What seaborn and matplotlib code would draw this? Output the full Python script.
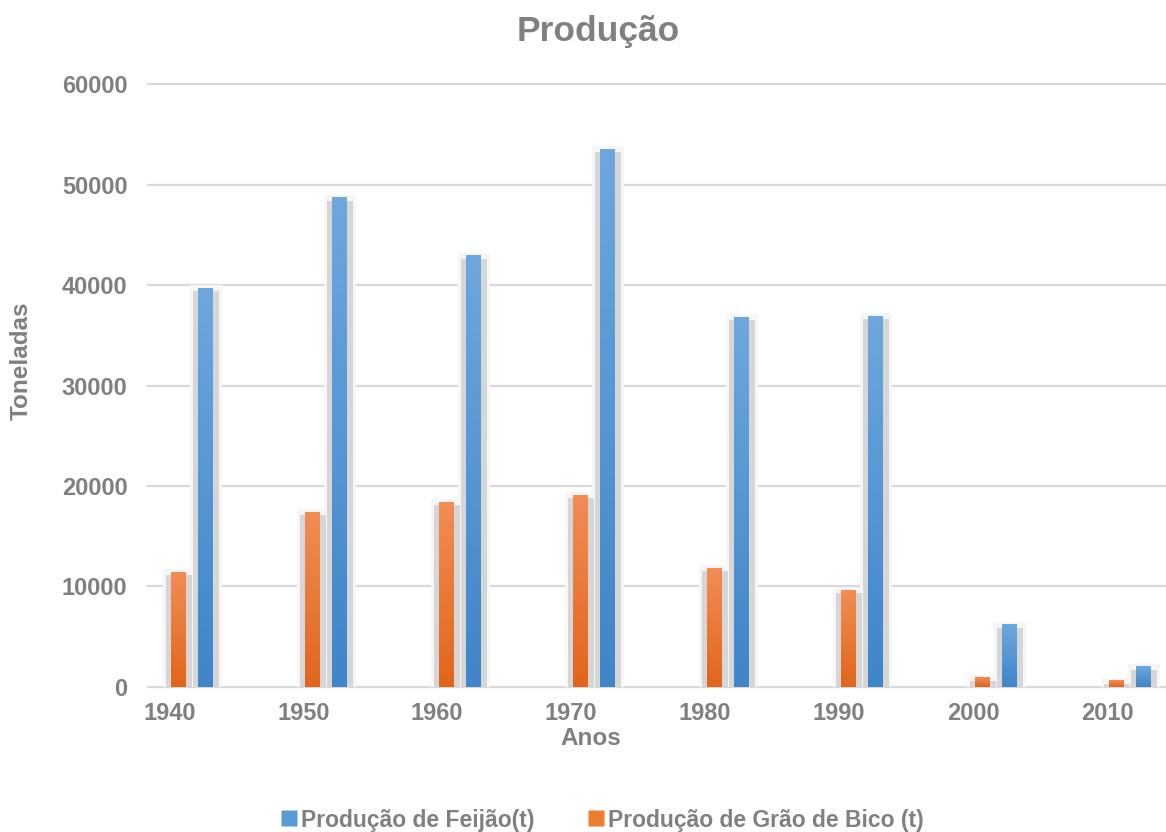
import numpy as np
import pandas as pd
import matplotlib
matplotlib.use("Agg")
import matplotlib.pyplot as plt
import seaborn as sns
from matplotlib.patches import Rectangle
from matplotlib.lines import Line2D
from matplotlib.colors import LinearSegmentedColormap

# Produção anual (toneladas)
anos = ["1940", "1950", "1960", "1970", "1980", "1990", "2000", "2010"]
feijao = [39700, 48700, 42900, 53500, 36800, 36900, 6200, 2000]
grao_de_bico = [11400, 17400, 18400, 19100, 11800, 9600, 900, 600]

serie_feijao = "Produção de Feijão(t)"
serie_grao = "Produção de Grão de Bico (t)"

df = pd.DataFrame({
    "Ano": anos * 2,
    "Toneladas": grao_de_bico + feijao,
    "Série": [serie_grao] * len(anos) + [serie_feijao] * len(anos),
})

AZUL = "#5B9BD5"
LARANJA = "#ED7D31"
CINZA = "#808080"
gradientes = {
    serie_grao: ("#E2651B", "#F28D55"),
    serie_feijao: ("#3F85C8", "#6DA7DE"),
}

sns.set_theme(style="white")
plt.rcParams["font.family"] = ["Liberation Sans", "DejaVu Sans"]

fig = plt.figure(figsize=(11.66, 8.32), dpi=100)
ax = fig.add_axes([0.1261, 0.1707, 0.8739, 0.7319])

ordem = [serie_grao, serie_feijao]
sns.barplot(data=df, x="Ano", y="Toneladas", hue="Série", hue_order=ordem,
            palette=[LARANJA, AZUL], width=0.41, gap=0.454, ax=ax,
            legend=False, zorder=3, errorbar=None)

# Sombra suave e preenchimento em degradê para cada barra
px_x = 1 / 134.0
px_y = 99.5
for serie, cont in zip(ordem, ax.containers):
    c0, c1 = gradientes[serie]
    cmap = LinearSegmentedColormap.from_list(serie, [c0, c1])
    grad = np.linspace(0, 1, 256).reshape(-1, 1)
    for p in cont.patches:
        x, w, h = p.get_x(), p.get_width(), p.get_height()
        ax.add_patch(Rectangle((x - 8 * px_x, 0), w + 17 * px_x, h + 3 * px_y,
                               facecolor="#f6f6f6", edgecolor="none", zorder=2))
        ax.add_patch(Rectangle((x - 5 * px_x, 0), w + 11 * px_x, h - 3 * px_y,
                               facecolor="#d6d6d6", edgecolor="none", zorder=2.2))
        ax.imshow(grad, cmap=cmap, extent=[x, x + w, 0, h], origin="lower",
                  aspect="auto", zorder=3.5, interpolation="bilinear")
        p.set_visible(False)

ax.set_xlim(-0.336, 7.269)
ax.set_ylim(-300, 60300)
ax.set_yticks(range(0, 60001, 10000))
ax.set_xticks(np.arange(len(anos)) - 0.17, anos)

ax.yaxis.grid(True, color="#d9d9d9", linewidth=1.6, zorder=0)
ax.xaxis.grid(False)
ax.set_axisbelow(True)
for s in ax.spines.values():
    s.set_visible(False)

ax.tick_params(axis="both", length=0, labelsize=17, labelcolor=CINZA)
ax.tick_params(axis="x", pad=9)
ax.tick_params(axis="y", pad=14)
for lbl in ax.get_xticklabels() + ax.get_yticklabels():
    lbl.set_fontweight("bold")

ax.set_xlabel("")
ax.set_ylabel("")
fig.text(591 / 1166, 1 - 745 / 832, "Anos", ha="center", va="baseline",
         fontsize=17.5, fontweight="bold", color=CINZA)
fig.text(21.5 / 1166, 1 - 361 / 832, "Toneladas", ha="center", va="center",
         rotation=90, fontsize=17.5, fontweight="bold", color=CINZA)
fig.text(598 / 1166, 1 - 41 / 832, "Produção", ha="center", va="baseline",
         fontsize=25.5, fontweight="bold", color=CINZA)

handles = [
    Line2D([], [], marker="s", linestyle="none", markersize=11,
           markerfacecolor=AZUL, markeredgecolor="none"),
    Line2D([], [], marker="s", linestyle="none", markersize=11,
           markerfacecolor=LARANJA, markeredgecolor="none"),
]
fig.legend(handles, [serie_feijao, serie_grao], loc="center",
           bbox_to_anchor=(602 / 1166, 1 - 820 / 832), ncol=2, frameon=False,
           prop={"weight": "bold", "size": 16.5}, labelcolor=CINZA,
           handletextpad=0.15, columnspacing=2.3, handlelength=0.75)

fig.savefig("out.png", dpi=100)
